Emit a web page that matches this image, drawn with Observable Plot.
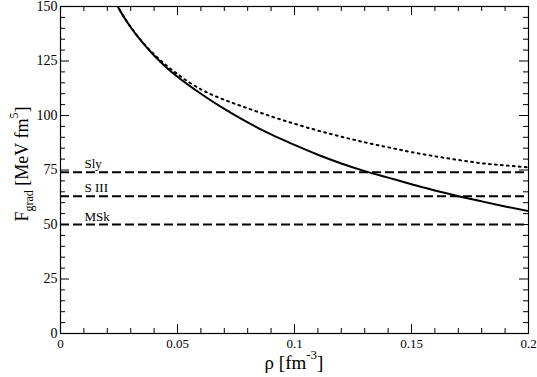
<!DOCTYPE html>
<html><head><meta charset="utf-8">
<script src="https://cdn.jsdelivr.net/npm/d3@7"></script>
<script src="https://cdn.jsdelivr.net/npm/@observablehq/plot@0.6"></script>
<style>body{margin:0;background:#fff;} #chart svg{display:block;} #chart svg text{font-family:'Liberation Serif','DejaVu Serif',serif !important;}</style>
</head><body><div id="chart"></div>
<script>
// Data
const rhoSolid = [0.024,0.025,0.03,0.035,0.04,0.045,0.05,0.06,0.07,0.08,0.09,0.1,0.11,0.12,0.13,0.14,0.15,0.16,0.17,0.18,0.19,0.2];
const solidValues = [151,149,140.5,133.5,127.5,122.3,117.8,110,103,96.8,91.3,86.5,82,78,74.5,71.5,68.5,65.6,63.0,60.6,58.3,56.1];
const rhoDotted = [0.024,0.025,0.03,0.035,0.04,0.045,0.05,0.055,0.06,0.065,0.07,0.08,0.09,0.1,0.11,0.12,0.13,0.14,0.15,0.16,0.17,0.18,0.19,0.2];
const dottedValues = [151,149,140.6,133.7,128,123.2,119,115.2,112,109.4,107.2,103.3,99.6,96.2,93.1,90.3,87.7,85.4,83.2,81.3,79.6,78.1,77.1,76.2];
const refNames = ["Sly","S III","MSk"];
const refValues = [74,63,50];
const xTicks = [0,0.05,0.1,0.15,0.2];
const xMinor = [0.01,0.02,0.03,0.04,0.06,0.07,0.08,0.09,0.11,0.12,0.13,0.14,0.16,0.17,0.18,0.19];
const yTicks = [0,25,50,75,100,125,150];
const yMinor = [5,10,15,20,30,35,40,45,55,60,65,70,80,85,90,95,105,110,115,120,130,135,140,145];

const W = 537, H = 377, mL = 60, mR = 9, mT = 6, mB = 44;
const iw = W - mL - mR, ih = H - mT - mB;
const font = "'Liberation Serif','DejaVu Serif',serif";
const solid = rhoSolid.map((r,i)=>({r, v: solidValues[i]}));
const dotted = rhoDotted.map((r,i)=>({r, v: dottedValues[i]}));
const refs = refNames.map((n,i)=>({n, v: refValues[i]}));
const major = 9, minor = 5;

const chart = Plot.plot({
  width: W, height: H,
  marginLeft: mL, marginRight: mR, marginTop: mT, marginBottom: mB,
  style: {fontFamily: font, background: "#fff", color: "#000"},
  x: {domain: [0, 0.2]},
  y: {domain: [0, 150]},
  marks: [
    Plot.line(dotted, {x: "r", y: "v", stroke: "#000", strokeWidth: 2, strokeDasharray: "1.8,4.2", curve: "monotone-x", clip: true}),
    Plot.line(solid, {x: "r", y: "v", stroke: "#000", strokeWidth: 2, curve: "monotone-x", clip: true}),
    Plot.ruleY(refs, {y: "v", stroke: "#000", strokeWidth: 2, strokeDasharray: "9,4"}),
    Plot.text(refs, {y: "v", text: "n", frameAnchor: "left", dx: 24, dy: -4, textAnchor: "start", lineAnchor: "bottom", fontSize: 13, fill: "#000"}),
    // ticks (inward, mirrored)
    Plot.ruleX(xTicks, {x: d=>d, insetTop: ih - major, stroke: "#000"}),
    Plot.ruleX(xTicks, {x: d=>d, insetBottom: ih - major, stroke: "#000"}),
    Plot.ruleX(xMinor, {x: d=>d, insetTop: ih - minor, stroke: "#000"}),
    Plot.ruleX(xMinor, {x: d=>d, insetBottom: ih - minor, stroke: "#000"}),
    Plot.ruleY(yTicks, {y: d=>d, insetRight: iw - major, stroke: "#000"}),
    Plot.ruleY(yTicks, {y: d=>d, insetLeft: iw - major, stroke: "#000"}),
    Plot.ruleY(yMinor, {y: d=>d, insetRight: iw - minor, stroke: "#000"}),
    Plot.ruleY(yMinor, {y: d=>d, insetLeft: iw - minor, stroke: "#000"}),
    Plot.axisX({ticks: xTicks, tickSize: 0, tickPadding: 5, tickFormat: d => String(d), fontSize: 13, label: null}),
    Plot.axisY({ticks: yTicks, tickSize: 0, tickPadding: 3, tickFormat: d => String(d), fontSize: 14, label: null}),
    Plot.frame({stroke: "#000", strokeWidth: 1.2})
  ]
});
document.getElementById("chart").appendChild(chart);

// Axis titles with sub/superscripts
const svg = d3.select(chart);
const yt = svg.append("text")
  .attr("transform", `translate(28,${164}) rotate(-90)`)
  .attr("text-anchor", "middle")
  .attr("font-size", 18).attr("fill", "#000");
yt.append("tspan").text("F");
yt.append("tspan").attr("font-size", 12).attr("dy", 5).text("grad");
yt.append("tspan").attr("dy", -5).text(" [MeV fm");
yt.append("tspan").attr("font-size", 12).attr("dy", -10).text("5");
yt.append("tspan").attr("dy", 10).text("]");

const xt = svg.append("text")
  .attr("x", 294).attr("y", 369)
  .attr("text-anchor", "middle")
  .attr("font-size", 19).attr("fill", "#000");
xt.append("tspan").text("ρ [fm");
xt.append("tspan").attr("font-size", 13).attr("dy", -10).text("-3");
xt.append("tspan").attr("dy", 10).text("]");
</script>
</body></html>
